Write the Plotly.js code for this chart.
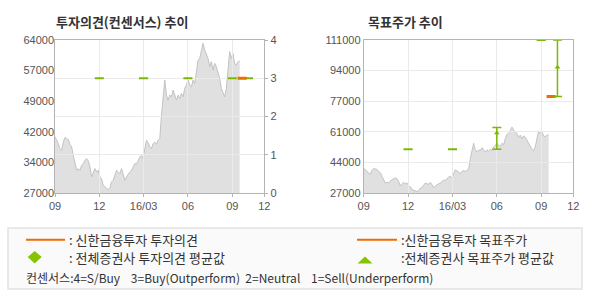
<!DOCTYPE html>
<html>
<head>
<meta charset="utf-8">
<script src="https://cdn.plot.ly/plotly-3.0.1.min.js"></script>
<style>html,body{margin:0;padding:0;background:#fff;}#chart{width:590px;height:300px;}</style>
</head>
<body>
<div id="chart"></div>
<script>
// ---- data ----
const xTickLabels = ['09', '12', '16/03', '06', '09', '12'];
const xTickMonths = [0, 3, 6, 9, 12, 14.17];   // months since 2015-09
const priceStartMonth = 0;
const priceEndMonth = 12.5;
const prices = [
  40600, 39900, 38950, 37740, 37340, 39360, 40410, 40170, 39900, 38790,
  38150, 36130, 34110, 32490, 32900, 32490, 33700, 34110, 34920, 35320,
  34750, 33300, 30880, 32090, 32900, 32090, 32490, 30880, 30470, 28860,
  28450, 28050, 27810, 28290, 29660, 30070, 31280, 32490, 32090, 31680,
  32900, 31680, 30070, 30880, 31680, 32090, 32490, 33300, 34110, 33950,
  34920, 35720, 36130, 35320, 37740, 39760, 39120, 38150, 37740, 38950,
  39360, 38790, 39760, 40170, 45820, 50270, 54300, 50670, 49460, 50670,
  50270, 51880, 50670, 49460, 50670, 49860, 51070, 50270, 52290, 53090,
  54300, 53090, 52690, 54300, 53500, 56730, 59150, 59560, 61580, 63190,
  61580, 60770, 59560, 57540, 58750, 56730, 58350, 57540, 55920, 54710,
  52290, 51070, 50270, 52290, 56730, 61170, 59560, 60770, 58350, 57940,
  58750, 58910
];
const opinionTickVals = [0, 1, 2, 3, 4];
const leftPriceTickLabels = ['27000', '34000', '42000', '49000', '57000', '64000'];
const rightPriceTickLabels = ['27000', '44000', '61000', '77000', '94000', '111000'];

const consensusOpinionMonths = [3, 6, 9, 12, 13.1];
const consensusOpinion = [3, 3, 3, 3, 3];
const shinhanOpinionMonths = [12.67];
const shinhanOpinion = [3];

const targetMonths = [3, 6, 9, 12, 13.1];
const targetAvg = [51000, 51000, 60000, 111000, 96000];
const targetHigh = [51000, 51000, 63000, 111000, 111000];
const targetLow = [51000, 51000, 51000, 111000, 80000];
const shinhanTargetMonths = [12.67];
const shinhanTarget = [80000];

// ---- styles ----
const W = 590, H = 300;
const fx = v => v / W, fy = v => 1 - v / H;
const ORANGE = '#f26b00', GREEN = '#7cb800', GREEN2 = '#86c300';
const GRID = '#eaeaea', LINE = '#b4b4b4';
const domL = [fx(55), fx(264.3)], domR = [fx(363.7), fx(573.3)], domY = [fy(193), fy(40)];
const tickFont = {family: 'Liberation Sans, Arial, sans-serif', size: 11, color: '#555'};
const krFont = 'Noto Sans CJK KR, sans-serif';
const DASH = 6.5;

const priceX = prices.map((_, i) => priceStartMonth + i * (priceEndMonth - priceStartMonth) / (prices.length - 1));
const uniformTicks = (lo, hi, n) => Array.from({length: n}, (_, k) => lo + k * (hi - lo) / (n - 1));
const leftMin = +leftPriceTickLabels[0], leftMax = +leftPriceTickLabels[leftPriceTickLabels.length - 1];
const rightMin = +rightPriceTickLabels[0], rightMax = +rightPriceTickLabels[rightPriceTickLabels.length - 1];
const xRange = [xTickMonths[0], xTickMonths[xTickMonths.length - 1]];

const spreadIdx = targetMonths.map((_, i) => i).filter(i => targetHigh[i] > targetLow[i]);
const flatIdx = targetMonths.map((_, i) => i).filter(i => !(targetHigh[i] > targetLow[i]));

const traces = [
  { // left price area
    x: priceX, y: prices, xaxis: 'x', yaxis: 'y', type: 'scatter', mode: 'lines',
    fill: 'tozeroy', fillcolor: '#e0e0e0', line: {color: '#c2c2c2', width: 1}, hoverinfo: 'skip'
  },
  { // right price area
    x: priceX, y: prices, xaxis: 'x2', yaxis: 'y2', type: 'scatter', mode: 'lines',
    fill: 'tozeroy', fillcolor: '#e0e0e0', line: {color: '#c2c2c2', width: 1}, hoverinfo: 'skip'
  },
  { // consensus opinion
    x: consensusOpinionMonths, y: consensusOpinion, xaxis: 'x3', yaxis: 'y3', type: 'scatter', mode: 'markers',
    marker: {symbol: 'line-ew', size: DASH, line: {color: GREEN, width: 2}}
  },
  { // shinhan opinion
    x: shinhanOpinionMonths, y: shinhanOpinion, xaxis: 'x3', yaxis: 'y3', type: 'scatter', mode: 'markers',
    marker: {symbol: 'line-ew', size: DASH, line: {color: ORANGE, width: 3}}
  },
  { // target flat consensus
    x: flatIdx.map(i => targetMonths[i]), y: flatIdx.map(i => targetAvg[i]), xaxis: 'x4', yaxis: 'y4',
    type: 'scatter', mode: 'markers',
    marker: {symbol: 'line-ew', size: DASH, line: {color: GREEN, width: 2}}
  },
  { // shinhan target
    x: shinhanTargetMonths, y: shinhanTarget, xaxis: 'x4', yaxis: 'y4', type: 'scatter', mode: 'markers',
    marker: {symbol: 'line-ew', size: DASH, line: {color: ORANGE, width: 3}}
  },
  { // target consensus range
    x: spreadIdx.map(i => targetMonths[i]), y: spreadIdx.map(i => targetAvg[i]), xaxis: 'x4', yaxis: 'y4',
    type: 'scatter', mode: 'markers',
    marker: {symbol: 'triangle-up', size: 5, color: GREEN},
    error_y: {type: 'data', symmetric: false,
      array: spreadIdx.map(i => targetHigh[i] - targetAvg[i]),
      arrayminus: spreadIdx.map(i => targetAvg[i] - targetLow[i]),
      color: GREEN, thickness: 1.5, width: 4.5}
  }
];

const hiddenX = dom => ({domain: dom, range: xRange, visible: false, fixedrange: true});
const gridX = (dom, anchor) => ({
  domain: dom, range: xRange, anchor: anchor,
  tickvals: xTickMonths, ticktext: xTickLabels, tickfont: tickFont,
  showgrid: true, gridcolor: GRID, gridwidth: 1,
  showline: true, linecolor: LINE, linewidth: 1, mirror: true,
  ticks: 'outside', ticklen: 3, tickcolor: LINE, zeroline: false
});

const layout = {
  width: W, height: H,
  margin: {l: 0, r: 0, t: 0, b: 0},
  paper_bgcolor: '#fff', plot_bgcolor: 'rgba(0,0,0,0)',
  showlegend: false,
  xaxis: hiddenX(domL),
  yaxis: {domain: domY, anchor: 'x', range: [leftMin, leftMax],
    tickvals: uniformTicks(leftMin, leftMax, leftPriceTickLabels.length), ticktext: leftPriceTickLabels,
    tickfont: tickFont, showgrid: false, zeroline: false, showline: false, ticks: ''},
  xaxis2: hiddenX(domR),
  yaxis2: {domain: domY, anchor: 'x2', range: [rightMin, rightMax], visible: false},
  xaxis3: gridX(domL, 'y3'),
  yaxis3: {domain: domY, anchor: 'x3', side: 'right', range: [0, 4], tickvals: opinionTickVals,
    tickfont: tickFont, showgrid: true, gridcolor: GRID, zeroline: false,
    showline: true, linecolor: LINE, mirror: true, ticks: 'outside', ticklen: 3, tickcolor: LINE},
  xaxis4: gridX(domR, 'y4'),
  yaxis4: {domain: domY, anchor: 'x4', range: [rightMin, rightMax],
    tickvals: uniformTicks(rightMin, rightMax, rightPriceTickLabels.length), ticktext: rightPriceTickLabels,
    tickfont: tickFont, showgrid: true, gridcolor: GRID, zeroline: false,
    showline: true, linecolor: LINE, mirror: true, ticks: ''},
  shapes: [
    {type: 'rect', xref: 'paper', yref: 'paper', x0: fx(8), x1: fx(582), y0: fy(228), y1: fy(289),
      fillcolor: '#fafafa', line: {color: '#e2e2e2', width: 1.5}, layer: 'below'},
    {type: 'line', xref: 'paper', yref: 'paper', x0: fx(26), x1: fx(65), y0: fy(239.7), y1: fy(239.7),
      line: {color: ORANGE, width: 2}},
    {type: 'line', xref: 'paper', yref: 'paper', x0: fx(357), x1: fx(397), y0: fy(239.7), y1: fy(239.7),
      line: {color: ORANGE, width: 2}},
    {type: 'path', xref: 'paper', yref: 'paper',
      path: `M ${fx(27.7)} ${fy(257)} L ${fx(34.7)} ${fy(251)} L ${fx(41.7)} ${fy(257)} L ${fx(34.7)} ${fy(263.5)} Z`,
      fillcolor: GREEN2, line: {width: 0}},
    {type: 'path', xref: 'paper', yref: 'paper',
      path: `M ${fx(357.5)} ${fy(263.5)} L ${fx(365)} ${fy(256.5)} L ${fx(372.5)} ${fy(263.5)} Z`,
      fillcolor: GREEN2, line: {width: 0}}
  ],
  annotations: [
    {text: '<b>투자의견(컨센서스) 추이</b>', xref: 'paper', yref: 'paper', x: fx(54), y: fy(21),
      xanchor: 'left', yanchor: 'middle', showarrow: false, font: {family: krFont, size: 13, color: '#333'}},
    {text: '<b>목표주가 추이</b>', xref: 'paper', yref: 'paper', x: fx(366), y: fy(21),
      xanchor: 'left', yanchor: 'middle', showarrow: false, font: {family: krFont, size: 13, color: '#333'}},
    {text: ': 신한금융투자 투자의견', xref: 'paper', yref: 'paper', x: fx(67), y: fy(239.7),
      xanchor: 'left', yanchor: 'middle', showarrow: false, font: {family: krFont, size: 13, color: '#333'}},
    {text: ': 전체증권사 투자의견 평균값', xref: 'paper', yref: 'paper', x: fx(67), y: fy(257.5),
      xanchor: 'left', yanchor: 'middle', showarrow: false, font: {family: krFont, size: 13, color: '#333'}},
    {text: ':신한금융투자 목표주가', xref: 'paper', yref: 'paper', x: fx(399), y: fy(239.7),
      xanchor: 'left', yanchor: 'middle', showarrow: false, font: {family: krFont, size: 13, color: '#333'}},
    {text: ':전체증권사 목표주가 평균값', xref: 'paper', yref: 'paper', x: fx(399), y: fy(257.5),
      xanchor: 'left', yanchor: 'middle', showarrow: false, font: {family: krFont, size: 13, color: '#333'}},
    {text: '컨센서스:4=S/Buy\u00a0\u00a0\u00a0\u00a03=Buy(Outperform)\u00a0\u00a02=Neutral\u00a0\u00a0\u00a0\u00a01=Sell(Underperform)',
      xref: 'paper', yref: 'paper', x: fx(24), y: fy(277.7),
      xanchor: 'left', yanchor: 'middle', showarrow: false, font: {family: krFont, size: 12, color: '#333'}}
  ]
};

Plotly.newPlot('chart', traces, layout, {staticPlot: true, displayModeBar: false});
</script>
</body>
</html>
